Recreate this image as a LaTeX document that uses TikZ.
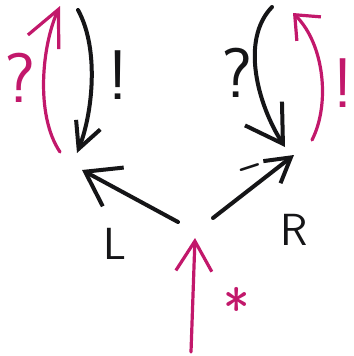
\documentclass[tikz,border=0pt]{standalone}
\usepackage{xcolor}
\usepackage{tikz}
\usetikzlibrary{arrows.meta,positioning}
\definecolor{ink}{HTML}{151517}
\definecolor{pen}{HTML}{C2186B}

\begin{document}
\begin{tikzpicture}[
  x=0.25mm,y=-0.25mm,
  every node/.style={font=\sffamily,inner sep=0pt},
  big/.style={font=\sffamily\fontsize{50}{50}\selectfont},
  letter/.style={font=\sffamily\fontsize{32}{32}\selectfont,color=ink},
  stroke/.style={line width=1mm,color=ink,line cap=round,line join=round},
  pink/.style={line width=0.8mm,color=pen,line cap=round,line join=round},
  head/.style 2 args={-{Straight Barb[length=#1,width=#2]}}
]
\fill[white] (0,0) rectangle (354,356);
\useasboundingbox (0,0) rectangle (354,356);

\coordinate (in0) at (191,352);
\coordinate (in1) at (195,238);
\coordinate (l0) at (178,222);
\coordinate (l1) at (82,170);
\coordinate (r0) at (213,218);
\coordinate (r1) at (294,155);
\coordinate (lt0) at (78,10);
\coordinate (lt1) at (77,153);
\coordinate (lq0) at (60,152);
\coordinate (lq1) at (60,6);
\coordinate (rt0) at (272,7);
\coordinate (rt1) at (285,147);
\coordinate (rq0) at (312,140);
\coordinate (rq1) at (293,13);

\draw[pink,head={7.5mm}{9mm}] (in0) -- (in1);
\draw[stroke,head={8mm}{11mm}] (l0) -- (l1);
\draw[stroke,head={6mm}{7mm}] (r0) -- (r1);
\draw[stroke,head={6.5mm}{6.5mm}] (lt0) .. controls +(22,40) and +(15,-38) .. (lt1);
\draw[pink,head={9mm}{8.5mm}] (lq0) .. controls +(-25,-37) and +(-18,39) .. (lq1);
\draw[stroke,head={9mm}{11mm}] (rt0) .. controls +(-32,33) and +(-27,-42) .. (rt1);
\draw[pink,head={5mm}{8.5mm}] (rq0) .. controls +(18,-35) and +(32,32) .. (rq1);

\node[letter] (L) at (115,244) {L};
\node[letter] (R) at (294,230) {R};
\node[letter,font=\sffamily\bfseries\fontsize{26}{26}\selectfont,rotate=18] (minus) at (251,172) {--};
\node[big,color=pen] (ask) at (20,78) {?};
\node[big,color=ink] (bang) at (118,75) {!};
\node[big,color=ink] (ask2) at (237,73) {?};
\node[big,color=pen] (bang2) at (343,83) {!};
\node[color=pen,font=\sffamily\fontsize{40}{40}\selectfont] (star) at (237,308) {*};
\end{tikzpicture}
\end{document}
